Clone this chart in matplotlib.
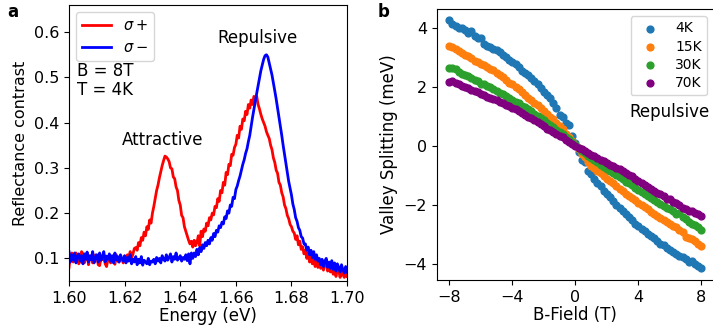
import numpy as np
import matplotlib
matplotlib.use("Agg")
import matplotlib.pyplot as plt

# --- panel a: reflectance contrast spectra (1.600 .. 1.700 eV, 0.5 meV step) ---
energy = np.round(np.arange(1.600, 1.70025, 0.0005), 4)
sigma_plus = [
    0.080, 0.108, 0.112, 0.092, 0.098, 0.112, 0.104, 0.088, 0.094, 0.115,
    0.110, 0.090, 0.100, 0.112, 0.086, 0.102, 0.106, 0.090, 0.096, 0.108,
    0.104, 0.086, 0.084, 0.100, 0.097, 0.110, 0.088, 0.082, 0.098, 0.105,
    0.090, 0.104, 0.096, 0.087, 0.108, 0.094, 0.092, 0.103, 0.098, 0.090,
    0.105, 0.098, 0.108, 0.102, 0.115, 0.100, 0.110, 0.122, 0.124, 0.118,
    0.135, 0.128, 0.146, 0.140, 0.158, 0.150, 0.170, 0.164, 0.185, 0.178,
    0.200, 0.215, 0.232, 0.250, 0.262, 0.278, 0.292, 0.305, 0.316, 0.326,
    0.324, 0.320, 0.314, 0.300, 0.298, 0.280, 0.276, 0.258, 0.250, 0.228,
    0.218, 0.195, 0.190, 0.170, 0.160, 0.150, 0.140, 0.132, 0.138, 0.125,
    0.140, 0.128, 0.135, 0.150, 0.128, 0.160, 0.148, 0.165, 0.160, 0.178,
    0.172, 0.190, 0.185, 0.200, 0.196, 0.215, 0.212, 0.232, 0.226, 0.250,
    0.245, 0.268, 0.262, 0.290, 0.285, 0.308, 0.305, 0.330, 0.328, 0.345,
    0.352, 0.372, 0.366, 0.392, 0.385, 0.408, 0.404, 0.425, 0.418, 0.440,
    0.432, 0.450, 0.440, 0.458, 0.452, 0.458, 0.440, 0.430, 0.418, 0.408,
    0.400, 0.392, 0.380, 0.372, 0.365, 0.350, 0.340, 0.322, 0.312, 0.295,
    0.288, 0.268, 0.262, 0.245, 0.236, 0.218, 0.210, 0.195, 0.188, 0.175,
    0.170, 0.160, 0.156, 0.142, 0.150, 0.130, 0.138, 0.120, 0.126, 0.110,
    0.118, 0.100, 0.112, 0.092, 0.104, 0.088, 0.098, 0.082, 0.094, 0.080,
    0.090, 0.078, 0.088, 0.074, 0.086, 0.095, 0.072, 0.085, 0.070, 0.088,
    0.065, 0.082, 0.060, 0.078, 0.072, 0.058, 0.080, 0.064, 0.058, 0.075,
    0.060,
]
sigma_minus = [
    0.115, 0.092, 0.108, 0.096, 0.112, 0.090, 0.104, 0.110, 0.094, 0.106,
    0.088, 0.110, 0.098, 0.114, 0.092, 0.106, 0.097, 0.115, 0.090, 0.102,
    0.108, 0.092, 0.112, 0.096, 0.104, 0.115, 0.092, 0.105, 0.098, 0.110,
    0.094, 0.106, 0.090, 0.112, 0.097, 0.104, 0.092, 0.108, 0.100, 0.094,
    0.106, 0.090, 0.102, 0.094, 0.108, 0.088, 0.098, 0.092, 0.104, 0.086,
    0.098, 0.090, 0.104, 0.085, 0.096, 0.092, 0.088, 0.100, 0.086, 0.094,
    0.092, 0.098, 0.088, 0.102, 0.094, 0.100, 0.090, 0.106, 0.098, 0.094,
    0.108, 0.096, 0.102, 0.110, 0.092, 0.104, 0.098, 0.112, 0.096, 0.100,
    0.106, 0.094, 0.102, 0.098, 0.108, 0.095, 0.110, 0.088, 0.112, 0.100,
    0.112, 0.104, 0.120, 0.108, 0.124, 0.115, 0.130, 0.122, 0.135, 0.128,
    0.140, 0.132, 0.146, 0.140, 0.155, 0.148, 0.162, 0.158, 0.172, 0.168,
    0.180, 0.176, 0.192, 0.188, 0.205, 0.200, 0.218, 0.215, 0.235, 0.232,
    0.252, 0.260, 0.272, 0.282, 0.295, 0.308, 0.318, 0.332, 0.342, 0.358,
    0.372, 0.392, 0.412, 0.430, 0.448, 0.465, 0.482, 0.498, 0.515, 0.528,
    0.540, 0.548, 0.550, 0.545, 0.532, 0.520, 0.505, 0.488, 0.470, 0.452,
    0.432, 0.412, 0.392, 0.372, 0.350, 0.330, 0.310, 0.290, 0.270, 0.255,
    0.240, 0.220, 0.208, 0.190, 0.182, 0.168, 0.162, 0.148, 0.145, 0.132,
    0.132, 0.118, 0.125, 0.108, 0.118, 0.102, 0.115, 0.098, 0.108, 0.094,
    0.100, 0.086, 0.098, 0.082, 0.094, 0.100, 0.080, 0.092, 0.078, 0.095,
    0.076, 0.090, 0.072, 0.088, 0.080, 0.070, 0.086, 0.075, 0.068, 0.082,
    0.070,
]

# --- panel b: valley splitting vs field (-8 .. 8 T, 0.2 T step) ---
b_field = np.round(np.arange(-8.0, 8.01, 0.2), 1)
split_4k = [
    4.26, 4.15, 4.08, 4.02, 4.00, 3.95, 3.85, 3.90, 3.72, 3.65,
    3.68, 3.45, 3.40, 3.36, 3.30, 3.27, 3.20, 3.10, 3.02, 2.92,
    2.85, 2.78, 2.68, 2.55, 2.48, 2.40, 2.30, 2.22, 2.10, 1.98,
    1.85, 1.75, 1.62, 1.45, 1.30, 1.05, 1.00, 0.78, 0.72, 0.35, 0.10,
    -0.20, -0.45, -0.55, -0.85, -0.95, -1.10, -1.25, -1.35, -1.50, -1.62,
    -1.72, -1.85, -2.00, -2.10, -2.20, -2.30, -2.40, -2.50, -2.62, -2.70,
    -2.80, -2.88, -2.98, -3.05, -3.12, -3.20, -3.30, -3.36, -3.45, -3.50,
    -3.58, -3.64, -3.70, -3.75, -3.82, -3.92, -3.90, -3.98, -4.05, -4.13,
]
split_15k = [
    3.39, 3.35, 3.30, 3.22, 3.15, 3.08, 3.05, 2.98, 2.90, 2.85,
    2.78, 2.75, 2.68, 2.60, 2.57, 2.48, 2.42, 2.35, 2.25, 2.15,
    2.10, 2.02, 1.95, 1.85, 1.72, 1.65, 1.55, 1.48, 1.40, 1.30,
    1.20, 1.10, 1.00, 0.92, 0.80, 0.68, 0.58, 0.42, 0.32, 0.18, 0.05,
    -0.10, -0.25, -0.38, -0.55, -0.66, -0.75, -0.85, -0.92, -1.02, -1.10,
    -1.18, -1.25, -1.35, -1.45, -1.52, -1.60, -1.68, -1.75, -1.82, -1.92,
    -1.98, -2.05, -2.12, -2.22, -2.28, -2.35, -2.42, -2.50, -2.55, -2.62,
    -2.70, -2.75, -2.82, -2.90, -3.08, -3.10, -3.15, -3.22, -3.30, -3.38,
]
split_30k = [
    2.64, 2.65, 2.60, 2.52, 2.45, 2.42, 2.38, 2.30, 2.25, 2.20,
    2.12, 2.10, 2.05, 2.00, 1.95, 1.88, 1.82, 1.76, 1.70, 1.62,
    1.58, 1.50, 1.45, 1.38, 1.32, 1.25, 1.18, 1.10, 1.02, 0.95,
    0.88, 0.80, 0.72, 0.65, 0.56, 0.48, 0.40, 0.32, 0.24, 0.14, 0.05,
    -0.05, -0.15, -0.22, -0.32, -0.40, -0.48, -0.55, -0.62, -0.70, -0.78,
    -0.85, -0.92, -0.98, -1.05, -1.12, -1.20, -1.25, -1.32, -1.40, -1.48,
    -1.55, -1.60, -1.68, -1.75, -1.82, -1.88, -1.95, -2.02, -2.08, -2.12,
    -2.20, -2.30, -2.25, -2.40, -2.48, -2.55, -2.62, -2.68, -2.75, -2.83,
]
split_70k = [
    2.18, 2.20, 2.15, 2.10, 2.05, 2.00, 1.98, 1.92, 1.86, 1.85,
    1.78, 1.72, 1.68, 1.65, 1.60, 1.55, 1.50, 1.48, 1.40, 1.35,
    1.30, 1.25, 1.18, 1.12, 1.05, 1.00, 0.95, 0.90, 0.82, 0.75,
    0.68, 0.60, 0.55, 0.48, 0.42, 0.36, 0.30, 0.22, 0.15, 0.08, 0.02,
    -0.05, -0.10, -0.16, -0.24, -0.30, -0.34, -0.40, -0.45, -0.50, -0.58,
    -0.62, -0.66, -0.72, -0.78, -0.85, -0.92, -0.98, -1.02, -1.10, -1.18,
    -1.25, -1.30, -1.38, -1.45, -1.52, -1.58, -1.62, -1.70, -1.78, -1.80,
    -1.88, -1.92, -2.00, -2.08, -2.12, -2.18, -2.20, -2.25, -2.30, -2.36,
]
temp_labels = ["4K", "15K", "30K", "70K"]

plt.rcParams["font.size"] = 12
plt.rcParams["xtick.labelsize"] = 11.5
plt.rcParams["ytick.labelsize"] = 11.5

fig = plt.figure(figsize=(7.13, 3.31), dpi=100)

# --- Panel a ----------------------------------------------------------------
axA = fig.add_axes([0.0968, 0.151, 0.390, 0.834])
axA.plot(energy, sigma_plus, color="red", lw=2.0, label=r"$\sigma+$")
axA.plot(energy, sigma_minus, color="blue", lw=2.0, label=r"$\sigma-$")
axA.set_xlim(1.60, 1.70)
axA.set_ylim(0.05, 0.66)
axA.set_xticks([1.60, 1.62, 1.64, 1.66, 1.68, 1.70])
axA.set_yticks([0.1, 0.2, 0.3, 0.4, 0.5, 0.6])
axA.set_xlabel("Energy (eV)", labelpad=1)
axA.set_ylabel("Reflectance contrast", fontsize=11.5)
axA.legend(loc="upper left", fontsize=10.5, borderaxespad=0.5)
axA.text(1.6029, 0.493, "B = 8T\nT = 4K", ha="left", va="center", linespacing=1.05)
axA.text(1.6337, 0.361, "Attractive", ha="center", va="center")
axA.text(1.6678, 0.586, "Repulsive", ha="center", va="center")

# --- Panel b ----------------------------------------------------------------
axB = fig.add_axes([0.6125, 0.154, 0.389, 0.819])
series = [split_4k, split_15k, split_30k, split_70k]
colors = ["C0", "C1", "C2", "purple"]
for vals, col, lab in zip(series, colors, temp_labels):
    axB.scatter(b_field, vals, s=24, color=col, label=lab, zorder=2)
axB.set_xlim(-8.8, 8.8)
axB.set_ylim(-4.53, 4.65)
axB.set_xticks([-8, -4, 0, 4, 8])
axB.set_yticks([-4, -2, 0, 2, 4])
axB.set_xlabel("B-Field (T)", labelpad=1)
axB.set_ylabel("Valley Splitting (meV)")
axB.legend(loc="upper right", fontsize=10, scatterpoints=1,
           handletextpad=0.8, labelspacing=0.3)
axB.text(5.98, 1.16, "Repulsive", ha="center", va="center")

fig.text(0.010, 0.950, "a", fontsize=12, weight="bold")
fig.text(0.530, 0.950, "b", fontsize=12, weight="bold")

fig.savefig("out.png", dpi=100)
